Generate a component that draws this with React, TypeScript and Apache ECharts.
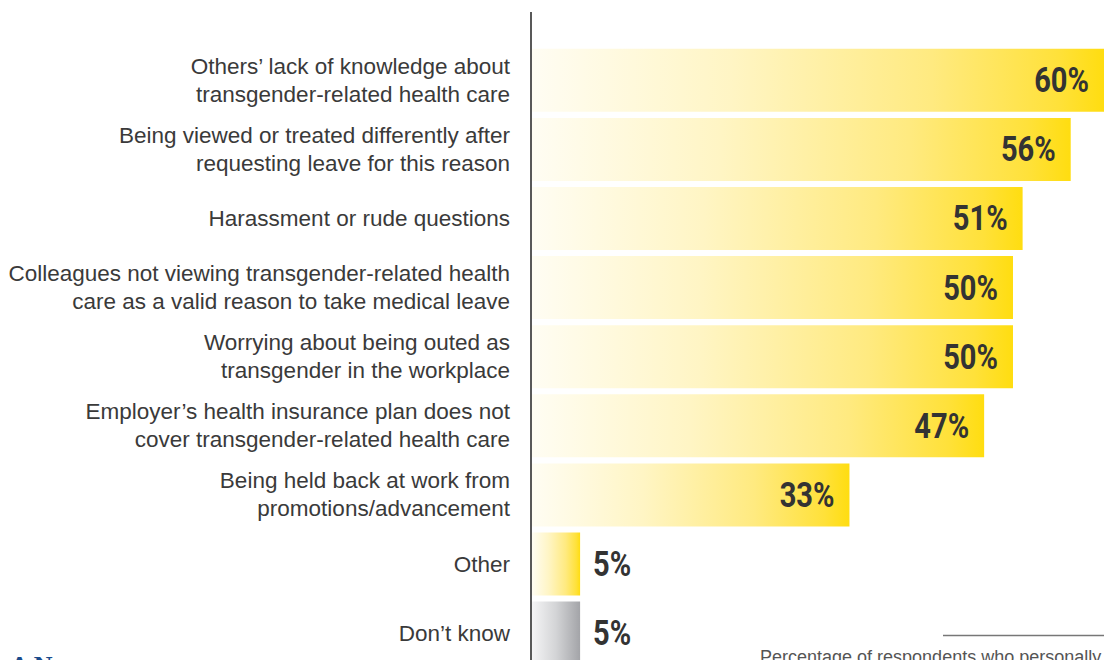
import React, { useEffect, useRef } from "react";
import * as echarts from "echarts";

const categories = [
  "Others’ lack of knowledge about\ntransgender-related health care",
  "Being viewed or treated differently after\nrequesting leave for this reason",
  "Harassment or rude questions",
  "Colleagues not viewing transgender-related health\ncare as a valid reason to take medical leave",
  "Worrying about being outed as\ntransgender in the workplace",
  "Employer’s health insurance plan does not\ncover transgender-related health care",
  "Being held back at work from\npromotions/advancement",
  "Other",
  "Don’t know",
];
const values = [60, 56, 51, 50, 50, 47, 33, 5, 5];
const grayCategories = ["Don’t know"];
const smallValueThreshold = 10;
const footnote = "Percentage of respondents who personally";
const cornerText = "A N";

const yellowGradient = new echarts.graphic.LinearGradient(0, 0, 1, 0, [
  { offset: 0, color: "#fffdf3" },
  { offset: 0.35, color: "#fff5c4" },
  { offset: 0.7, color: "#ffea80" },
  { offset: 0.92, color: "#ffe13a" },
  { offset: 1, color: "#ffdd10" },
]);
const grayGradient = new echarts.graphic.LinearGradient(0, 0, 1, 0, [
  { offset: 0, color: "#f5f5f6" },
  { offset: 0.5, color: "#d3d4d6" },
  { offset: 1, color: "#a3a4a8" },
]);

export default function App() {
  const ref = useRef<HTMLDivElement>(null);
  useEffect(() => {
    if (!ref.current) return;
    const chart = echarts.init(ref.current, null, { renderer: "svg" });
    const pctFont = 'Roboto, "DejaVu Sans Condensed", sans-serif';
    chart.setOption({
      animation: false,
      grid: { left: 532, right: 0, top: 45.75, bottom: 12.35 },
      xAxis: {
        type: "value",
        min: 0,
        max: 59.46,
        show: false,
      },
      yAxis: {
        type: "category",
        data: categories,
        inverse: true,
        axisLine: { show: false },
        axisTick: { show: false },
        splitLine: { show: false },
        axisLabel: {
          margin: 22,
          fontSize: 22.5,
          lineHeight: 28,
          color: "#3a3a3a",
          fontFamily: '"Liberation Sans", Arial, sans-serif',
          align: "right",
        },
      },
      series: [
        {
          type: "bar",
          barWidth: 63,
          data: values.map((v, i) => ({
            value: v,
            itemStyle: {
              color: grayCategories.includes(categories[i]) ? grayGradient : yellowGradient,
            },
          })),
          label: { show: false },
        },
        {
          type: "custom",
          z: 5,
          encode: { x: 0, y: 1 },
          data: values.map((v, i) => [v, i]),
          renderItem: (params: any, api: any) => {
            const v = api.value(0);
            const idx = api.value(1);
            const pt = api.coord([v, idx]);
            const cs = params.coordSys;
            const end = Math.min(pt[0], cs.x + cs.width);
            const small = v < smallValueThreshold;
            return {
              type: "text",
              x: small ? end + 13 : end - 15,
              y: pt[1],
              scaleX: 0.83,
              style: {
                text: v + "%",
                fontFamily: pctFont,
                fontWeight: "bold",
                fontSize: 35,
                fill: "#333333",
                align: small ? "left" : "right",
                verticalAlign: "middle",
              },
            };
          },
        },
      ],
      graphic: [
        {
          type: "line",
          shape: { x1: 531, y1: 12, x2: 531, y2: 680 },
          style: { stroke: "#222222", lineWidth: 1.5 },
          z: 10,
        },
        {
          type: "line",
          shape: { x1: 943, y1: 635.5, x2: 1104, y2: 635.5 },
          style: { stroke: "#777777", lineWidth: 1.5 },
        },
        {
          type: "text",
          x: 760,
          y: 648,
          style: {
            text: footnote,
            fontSize: 18,
            fill: "#555555",
            fontFamily: '"Liberation Sans", Arial, sans-serif',
            verticalAlign: "top",
          },
        },
        {
          type: "text",
          x: 10,
          y: 652,
          style: {
            text: cornerText,
            fontSize: 26,
            fontWeight: "bold",
            fill: "#1a4b8c",
            fontFamily: '"Liberation Serif", "DejaVu Serif", serif',
            verticalAlign: "top",
          },
        },
      ],
    });
    return () => chart.dispose();
  }, []);
  return (
    <div
      style={{ position: "fixed", left: 0, top: 0, width: 1104, height: 660, overflow: "hidden", background: "#ffffff" }}
    >
      <div ref={ref} style={{ width: 1104, height: 680 }} />
    </div>
  );
}
